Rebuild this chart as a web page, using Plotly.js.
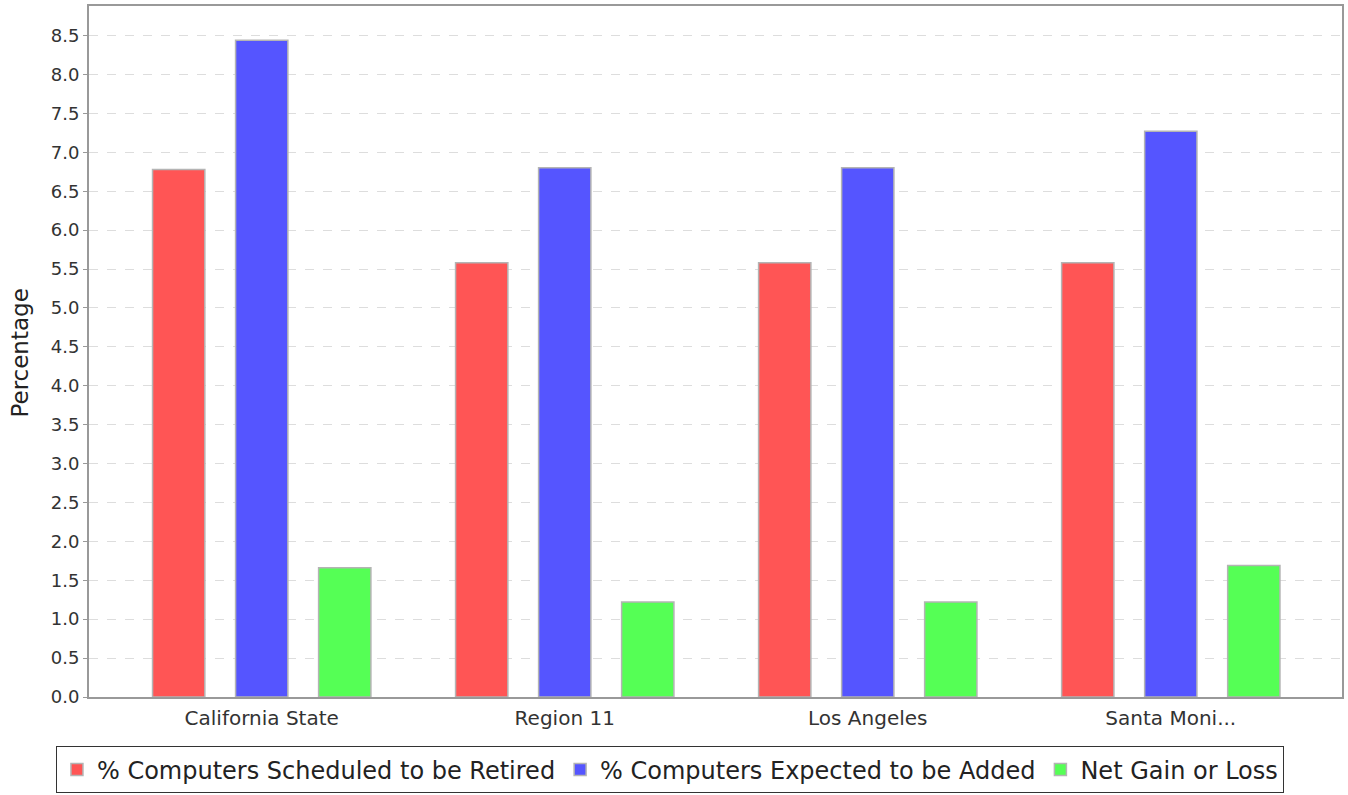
<!DOCTYPE html>
<html>
<head>
<meta charset="utf-8">
<script src="https://cdn.plot.ly/plotly-3.0.1.min.js"></script>
<style>html,body{margin:0;padding:0;background:#fff;}#chart{width:1348px;height:795px;}</style>
</head>
<body>
<div id="chart"></div>
<script>
const categories = ["California State", "Region 11", "Los Angeles", "Santa Moni..."];
const retired = [6.78, 5.58, 5.58, 5.58];
const added = [8.44, 6.80, 6.80, 7.27];
const netGain = [1.66, 1.22, 1.22, 1.69];
const seriesNames = ["% Computers Scheduled to be Retired", "% Computers Expected to be Added", "Net Gain or Loss"];
const yTicks = [0,0.5,1,1.5,2,2.5,3,3.5,4,4.5,5,5.5,6,6.5,7,7.5,8,8.5];
const yTitle = "Percentage";

const colors = ["#FF5555", "#5555FF", "#55FF55"];
const series = [retired, added, netGain];
const traces = series.map((vals, i) => ({
  type: "bar",
  x: categories,
  y: vals,
  name: seriesNames[i],
  marker: {color: colors[i], line: {color: "#b4b4b4", width: 1.5}},
  hoverinfo: "x+y"
}));

const layout = {
  width: 1348, height: 795,
  margin: {l: 89, r: 6, t: 6, b: 98},
  paper_bgcolor: "#ffffff",
  plot_bgcolor: "#ffffff",
  font: {family: "DejaVu Sans, sans-serif", color: "#222"},
  barmode: "group",
  bargap: 0.178,
  bargroupgap: 0.37,
  showlegend: true,
  legend: {
    orientation: "h",
    xref: "container", yref: "container",
    x: 0.497, xanchor: "center",
    y: 0.002, yanchor: "bottom",
    bordercolor: "#333", borderwidth: 1,
    font: {size: 24, color: "#222"},
    itemclick: false
  },
  annotations: [{
    text: yTitle, textangle: -90,
    xref: "paper", yref: "paper", x: 0, y: 0.497,
    xshift: -69, xanchor: "center", yanchor: "middle",
    showarrow: false,
    font: {size: 23, color: "#222"}
  }],
  xaxis: {
    type: "category",
    range: [-0.57, 3.565],
    showgrid: false,
    showline: true, linecolor: "#999", linewidth: 2,
    mirror: true,
    ticks: "", tickfont: {size: 20, color: "#333"},
    ticklabelstandoff: 2,
    fixedrange: true
  },
  yaxis: {
    range: [0, 8.88],
    tickvals: yTicks,
    ticktext: yTicks.map(v => v.toFixed(1)),
    showgrid: true, gridcolor: "#dddddd", griddash: "dash", gridwidth: 1,
    showline: true, linecolor: "#999", linewidth: 2, mirror: true,
    ticks: "outside", ticklen: 4, tickcolor: "#999",
    tickfont: {size: 18, color: "#333"},
    zeroline: false,
    fixedrange: true
  }
};

Plotly.newPlot("chart", traces, layout, {displayModeBar: false, staticPlot: false});
</script>
</body>
</html>
